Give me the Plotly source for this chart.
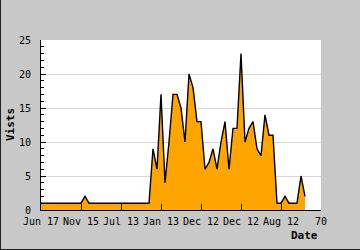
import plotly.graph_objects as go

# ---- data ----
x_index = list(range(67))
visits = [1, 1, 1, 1, 1, 1, 1, 1, 1, 1, 1, 2, 1, 1, 1, 1, 1, 1, 1, 1,
          1, 1, 1, 1, 1, 1, 1, 1, 9, 6, 17, 4, 10, 17, 17, 15, 10, 20, 18, 13,
          13, 6, 7, 9, 6, 10, 13, 6, 12, 12, 23, 10, 12, 13, 9, 8, 14, 11, 11, 1,
          1, 2, 1, 1, 1, 5, 2]
tick_vals = [0, 10, 20, 30, 40, 50, 60, 70]
tick_text = ["Jun 17", "Nov 15", "Jul 13", "Jan 13", "Dec 12", "Dec 12", "Aug 12", "70"]
y_label = "Vists"
x_label = "Date"

FONT = "DejaVu Sans Mono"
W, H = 360, 250
L, R, T, B = 41, 39, 40, 40
pw, ph = W - L - R, H - T - B

fig = go.Figure()
fig.add_trace(go.Scatter(
    x=x_index, y=visits, mode="lines", fill="tozeroy",
    fillcolor="#FFA500", line=dict(color="black", width=1.4),
    hoverinfo="skip", showlegend=False))

fig.update_layout(
    width=W, height=H,
    margin=dict(l=L, r=R, t=T, b=B, pad=0),
    paper_bgcolor="#C8C8C8", plot_bgcolor="white",
    showlegend=False,
    xaxis=dict(range=[0, 70], tickvals=tick_vals, ticktext=tick_text,
               ticks="inside", ticklen=6, tickcolor="black", tickwidth=1,
               showgrid=False, zeroline=False, showline=True, linecolor="black",
               linewidth=1, tickfont=dict(family=FONT, size=10, color="black"),
               ticklabelstandoff=2,
               fixedrange=True),
    yaxis=dict(range=[0, 25], tick0=0, dtick=5,
               ticks="inside", ticklen=5, tickcolor="black", tickwidth=1,
               showgrid=True, gridcolor="#D8D8D8", gridwidth=1,
               zeroline=False, showline=True, linecolor="black", linewidth=1,
               tickfont=dict(family=FONT, size=10, color="black"),
               ticklabelstandoff=7,
               minor=dict(dtick=1, ticks="inside", ticklen=3, tickcolor="black",
                          showgrid=False),
               fixedrange=True),
    annotations=[
        dict(text="<b>" + y_label + "</b>", xref="paper", yref="paper",
             x=(10 - L) / pw, y=0.5, textangle=-90, showarrow=False,
             xanchor="center", yanchor="middle",
             font=dict(family=FONT, size=11, color="black")),
        dict(text="<b>" + x_label + "</b>", xref="paper", yref="paper",
             x=(320 - L) / pw, y=(T + ph - 236) / ph, showarrow=False,
             xanchor="right", yanchor="middle",
             font=dict(family=FONT, size=11, color="black")),
    ],
    shapes=[
        dict(type="line", xref="paper", yref="paper",
             x0=(0.5 - L) / pw, x1=(0.5 - L) / pw,
             y0=(T + ph - H) / ph, y1=(T + ph) / ph,
             line=dict(color="#222222", width=1)),
        dict(type="line", xref="paper", yref="paper",
             x0=(0 - L) / pw, x1=(W - L) / pw,
             y0=(T + ph - 249.5) / ph, y1=(T + ph - 249.5) / ph,
             line=dict(color="#222222", width=1)),
    ],
)

fig.write_html("out.html", config={"displayModeBar": False})
